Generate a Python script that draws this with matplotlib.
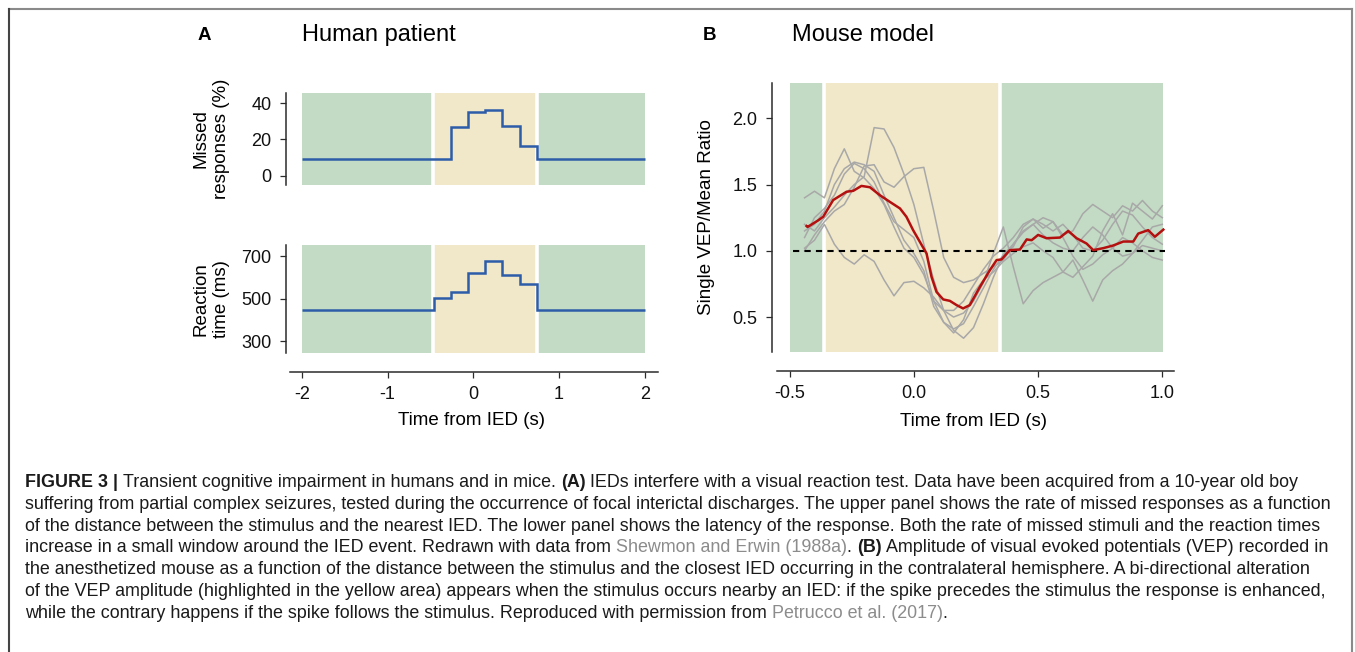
import numpy as np
import matplotlib
matplotlib.use("Agg")
import matplotlib.pyplot as plt
from matplotlib.transforms import IdentityTransform
from matplotlib.lines import Line2D
from matplotlib import font_manager

plt.rcParams["font.family"] = ["Liberation Sans", "DejaVu Sans"]
plt.rcParams["axes.unicode_minus"] = False

W, H = 1355, 652

# ── Data: panel A (human patient) ────────────────────────────────────────────
A_EDGES = [-2.0, -0.46, -0.26, -0.06, 0.14, 0.34, 0.54, 0.745, 2.0]
MISSED = [9.2, 9.2, 26.7, 34.9, 36.2, 27.4, 16.4, 9.2]          # %
REACTION = [449, 501, 530, 621, 678, 609, 570, 449]             # ms
A_XTICKS = [-2, -1, 0, 1, 2]
A_YTICKS_TOP = [0, 20, 40]
A_YTICKS_BOT = [300, 500, 700]

# ── Data: panel B (mouse model) ──────────────────────────────────────────────
MEAN_T = [-0.432, -0.428, -0.385, -0.365, -0.325, -0.271, -0.244, -0.211,
          -0.177, -0.137, -0.097, -0.056, -0.03, -0.003, 0.024, 0.051, 0.071,
          0.091, 0.118, 0.145, 0.172, 0.198, 0.225, 0.266, 0.306, 0.333,
          0.353, 0.386, 0.427, 0.454, 0.474, 0.5, 0.534, 0.588, 0.621, 0.655,
          0.695, 0.722, 0.762, 0.802, 0.843, 0.883, 0.903, 0.943, 0.97, 1.004]
MEAN_V = [1.187, 1.18, 1.23, 1.257, 1.383, 1.446, 1.453, 1.49, 1.48, 1.42,
          1.37, 1.32, 1.257, 1.156, 1.068, 0.98, 0.804, 0.69, 0.633, 0.622,
          0.59, 0.565, 0.59, 0.728, 0.854, 0.93, 0.935, 1.005, 1.01, 1.086,
          1.08, 1.12, 1.095, 1.10, 1.15, 1.095, 1.055, 1.005, 1.02, 1.04,
          1.07, 1.07, 1.13, 1.156, 1.106, 1.16]

SINGLE_T = [-0.44, -0.40, -0.36, -0.32, -0.28, -0.24, -0.20, -0.16, -0.12,
            -0.08, -0.04, 0.0, 0.04, 0.08, 0.12, 0.16, 0.20, 0.24, 0.28, 0.32,
            0.36, 0.40, 0.44, 0.48, 0.52, 0.56, 0.60, 0.64, 0.68, 0.72, 0.76,
            0.80, 0.84, 0.88, 0.92, 0.96, 1.0]
SINGLE_1 = [1.40, 1.45, 1.40, 1.62, 1.77, 1.60, 1.55, 1.47, 1.35, 1.18, 1.02,
            0.95, 0.82, 0.62, 0.55, 0.55, 0.62, 0.74, 0.86, 0.96, 1.02, 1.10,
            1.20, 1.24, 1.20, 1.15, 1.20, 1.12, 1.02, 1.00, 1.08, 1.20, 1.30,
            1.27, 1.18, 1.10, 1.05]
SINGLE_2 = [1.20, 1.15, 1.25, 1.33, 1.42, 1.50, 1.56, 1.93, 1.92, 1.78, 1.58,
            1.35, 1.05, 0.78, 0.55, 0.40, 0.34, 0.42, 0.60, 0.80, 0.97, 1.05,
            1.14, 1.20, 1.25, 1.22, 1.10, 0.96, 0.86, 0.90, 0.97, 1.02, 1.10,
            1.06, 1.00, 0.95, 0.93]
SINGLE_3 = [1.02, 1.08, 1.20, 1.05, 0.95, 0.90, 0.97, 0.92, 0.78, 0.66, 0.76,
            0.77, 0.72, 0.65, 0.55, 0.50, 0.53, 0.62, 0.76, 0.98, 1.18, 0.88,
            0.60, 0.70, 0.76, 0.80, 0.84, 0.93, 0.78, 0.62, 0.78, 0.85, 0.90,
            0.98, 1.04, 1.02, 1.00]
SINGLE_4 = [1.15, 1.20, 1.30, 1.50, 1.62, 1.67, 1.65, 1.60, 1.42, 1.25, 1.08,
            0.98, 0.85, 0.58, 0.46, 0.41, 0.45, 0.58, 0.72, 0.86, 0.97, 1.03,
            1.18, 1.24, 1.17, 1.22, 1.12, 1.15, 1.28, 1.35, 1.30, 1.25, 1.34,
            1.30, 1.38, 1.30, 1.25]
SINGLE_5 = [1.00, 1.12, 1.22, 1.30, 1.35, 1.48, 1.64, 1.65, 1.52, 1.48, 1.56,
            1.62, 1.63, 1.30, 0.95, 0.80, 0.76, 0.78, 0.83, 0.88, 0.93, 1.05,
            1.15, 1.20, 1.12, 1.06, 1.02, 1.00, 1.10, 1.18, 1.12, 1.02, 0.96,
            0.98, 1.08, 1.18, 1.20]
SINGLE_6 = [1.10, 1.25, 1.32, 1.42, 1.58, 1.66, 1.62, 1.52, 1.36, 1.22, 1.16,
            1.10, 0.92, 0.62, 0.46, 0.38, 0.48, 0.68, 0.78, 0.84, 0.92, 0.98,
            1.03, 1.06, 1.00, 0.95, 0.84, 0.80, 0.88, 0.96, 1.15, 1.28, 1.12,
            1.36, 1.30, 1.24, 1.34]
SINGLES = [SINGLE_1, SINGLE_2, SINGLE_3, SINGLE_4, SINGLE_5, SINGLE_6]
B_XTICKS = [-0.5, 0.0, 0.5, 1.0]
B_XLABELS = ["-0.5", "0.0", "0.5", "1.0"]
B_YTICKS = [0.5, 1.0, 1.5, 2.0]

# ── Style ────────────────────────────────────────────────────────────────────
GREEN = "#c3dbc4"
YELLOW = "#f1e7c9"
BLUE = "#2d5ca8"
RED = "#b3100f"
GREY = "#a8a8a8"
INK = "#2b2b2b"
TICK_FS = 13
LAB_FS = 13.5


def px_axes(x0, y0, x1, y1):
    """Axes rectangle from pixel box (top-left origin)."""
    return fig.add_axes([x0 / W, 1 - y1 / H, (x1 - x0) / W, (y1 - y0) / H])


def style_axes(ax, show_x):
    for s in ("top", "right"):
        ax.spines[s].set_visible(False)
    for s in ("left", "bottom"):
        ax.spines[s].set_linewidth(1.1)
        ax.spines[s].set_color(INK)
    ax.tick_params(direction="out", length=4.5, width=0.9, color=INK,
                   labelsize=TICK_FS, labelcolor="#111111", pad=6)
    if not show_x:
        ax.spines["bottom"].set_visible(False)
        ax.set_xticks([])
    else:
        ax.spines["bottom"].set_position(("outward", 13.5))


def shade(ax, green_spans, yellow_span, seps):
    for a, b in green_spans:
        ax.axvspan(a, b, color=GREEN, lw=0, zorder=0)
    ax.axvspan(*yellow_span, color=YELLOW, lw=0, zorder=0)
    for s in seps:
        ax.axvline(s, color="white", lw=2.6, zorder=0.5)


fig = plt.figure(figsize=(W / 100, H / 100), dpi=100)

# ── Panel A ──────────────────────────────────────────────────────────────────
AX_L, AX_R = (-2.184, 2.153)
ax1 = px_axes(286, 93, 658, 185)
shade(ax1, [(-2, 2)], (-0.47, 0.745), [-0.47, 0.745])
ax1.stairs(MISSED, A_EDGES, color=BLUE, lw=1.8, baseline=None, zorder=3)
ax1.set_xlim(AX_L, AX_R)
ax1.set_ylim(-5, 45.5)
ax1.set_yticks(A_YTICKS_TOP)
style_axes(ax1, False)
ax1.set_ylabel("Missed\nresponses (%)", fontsize=LAB_FS, linespacing=1.3)
ax1.yaxis.set_label_coords(-0.15, 0.5)

ax2 = px_axes(286, 245, 658, 353)
shade(ax2, [(-2, 2)], (-0.47, 0.745), [-0.47, 0.745])
ax2.stairs(REACTION, A_EDGES, color=BLUE, lw=1.8, baseline=None, zorder=3)
ax2.set_xlim(AX_L, AX_R)
ax2.set_ylim(245, 752)
ax2.set_yticks(A_YTICKS_BOT)
ax2.set_xticks(A_XTICKS)
ax2.set_xticklabels([str(v) for v in A_XTICKS])
style_axes(ax2, True)
ax2.spines["bottom"].set_bounds(-2.14, 2.153)
ax2.set_ylabel("Reaction\ntime (ms)", fontsize=LAB_FS, linespacing=1.3)
ax2.yaxis.set_label_coords(-0.15, 0.5)
ax2.set_xlabel("Time from IED (s)", fontsize=LAB_FS)
ax2.xaxis.set_label_coords(0.5, -0.55)

# ── Panel B ──────────────────────────────────────────────────────────────────
ax3 = px_axes(772, 83, 1174, 352)
shade(ax3, [(-0.5, -0.36), (0.345, 1.003)], (-0.36, 0.345), [-0.36, 0.345])
for tr in SINGLES:
    ax3.plot(SINGLE_T, tr, color=GREY, lw=1.1, zorder=2)
ax3.plot([-0.485, 1.01], [1.0, 1.0], color="black", lw=1.5,
         ls=(0, (3, 2.5)), zorder=3)
ax3.plot(MEAN_T, MEAN_V, color=RED, lw=1.8, zorder=4)
ax3.set_xlim(-0.571, 1.047)
ax3.set_ylim(0.236, 2.267)
ax3.set_yticks(B_YTICKS)
ax3.set_yticklabels(["%.1f" % v for v in B_YTICKS])
ax3.set_xticks(B_XTICKS)
ax3.set_xticklabels(B_XLABELS)
style_axes(ax3, True)
ax3.spines["bottom"].set_bounds(-0.551, 1.047)
ax3.set_ylabel("Single VEP/Mean Ratio", fontsize=LAB_FS)
ax3.yaxis.set_label_coords(-0.143, 0.5)
ax3.set_xlabel("Time from IED (s)", fontsize=LAB_FS)
ax3.xaxis.set_label_coords(0.5, -0.225)

# ── Panel letters and titles ─────────────────────────────────────────────────
fig.text(204 / W, 1 - 35 / H, "A", fontsize=13.5, fontweight="bold",
         ha="center", va="center")
fig.text(710 / W, 1 - 35 / H, "B", fontsize=13.5, fontweight="bold",
         ha="center", va="center")
fig.text(302 / W, 1 - 35 / H, "Human patient", fontsize=17, ha="left",
         va="center")
fig.text(792 / W, 1 - 35 / H, "Mouse model", fontsize=17, ha="left",
         va="center")

# ── Frame ────────────────────────────────────────────────────────────────────
for xs, ys, c in [([9, 1352], [9, 9], "#8a8a8a"),
                  ([9, 9], [9, H], "#444444"),
                  ([1352, 1352], [9, H], "#8a8a8a")]:
    fig.add_artist(Line2D(xs, [H - y for y in ys], color=c, lw=1.5,
                          transform=IdentityTransform()))

# ── Caption ──────────────────────────────────────────────────────────────────
try:
    font_manager.findfont(font_manager.FontProperties(
        family="Liberation Sans Narrow"), fallback_to_default=False)
    CAP_FAMILY = "Liberation Sans Narrow"
except Exception:
    CAP_FAMILY = "Liberation Sans"

CITE = "#8c8c8c"
CAPTION = [
    [("FIGURE 3 |", "b", False),
     ("Transient cognitive impairment in humans and in mice.", "n", True),
     ("(A)", "b", True),
     ("IEDs interfere with a visual reaction test. Data have been acquired "
      "from a 10-year old boy", "n", True)],
    [("suffering from partial complex seizures, tested during the occurrence "
      "of focal interictal discharges. The upper panel shows the rate of "
      "missed responses as a function", "n", False)],
    [("of the distance between the stimulus and the nearest IED. The lower "
      "panel shows the latency of the response. Both the rate of missed "
      "stimuli and the reaction times", "n", False)],
    [("increase in a small window around the IED event. Redrawn with data "
      "from", "n", False),
     ("Shewmon and Erwin (1988a)", "g", True),
     (".", "n", False),
     ("(B)", "b", True),
     ("Amplitude of visual evoked potentials (VEP) recorded in", "n", True)],
    [("the anesthetized mouse as a function of the distance between the "
      "stimulus and the closest IED occurring in the contralateral "
      "hemisphere. A bi-directional alteration", "n", False)],
    [("of the VEP amplitude (highlighted in the yellow area) appears when "
      "the stimulus occurs nearby an IED: if the spike precedes the stimulus "
      "the response is enhanced,", "n", False)],
    [("while the contrary happens if the spike follows the stimulus. "
      "Reproduced with permission from", "n", False),
     ("Petrucco et al. (2017)", "g", True),
     (".", "n", False)],
]
CAP_X0, CAP_Y0, CAP_DY = 25, 487, 21.8

renderer = fig.canvas.get_renderer()


def text_w(s, fs, weight="normal"):
    t = fig.text(0, 0, s, fontsize=fs, fontweight=weight, family=CAP_FAMILY,
                 transform=IdentityTransform())
    w = t.get_window_extent(renderer).width
    t.remove()
    return w


# font size chosen so the second (full) line spans the caption width
cap_fs = 10 * 1310 / text_w(CAPTION[1][0][0], 10)
space_w = text_w("x x", cap_fs) - text_w("xx", cap_fs)

for i, runs in enumerate(CAPTION):
    x = CAP_X0
    y = H - (CAP_Y0 + i * CAP_DY)
    for s, st, sp in runs:
        if sp:
            x += space_w
        t = fig.text(x, y, s, fontsize=cap_fs,
                     fontweight="bold" if st == "b" else "normal",
                     color=CITE if st == "g" else "#1a1a1a",
                     family=CAP_FAMILY, ha="left", va="baseline",
                     transform=IdentityTransform())
        x = t.get_window_extent(renderer).x1

fig.savefig("out.png", dpi=100)
